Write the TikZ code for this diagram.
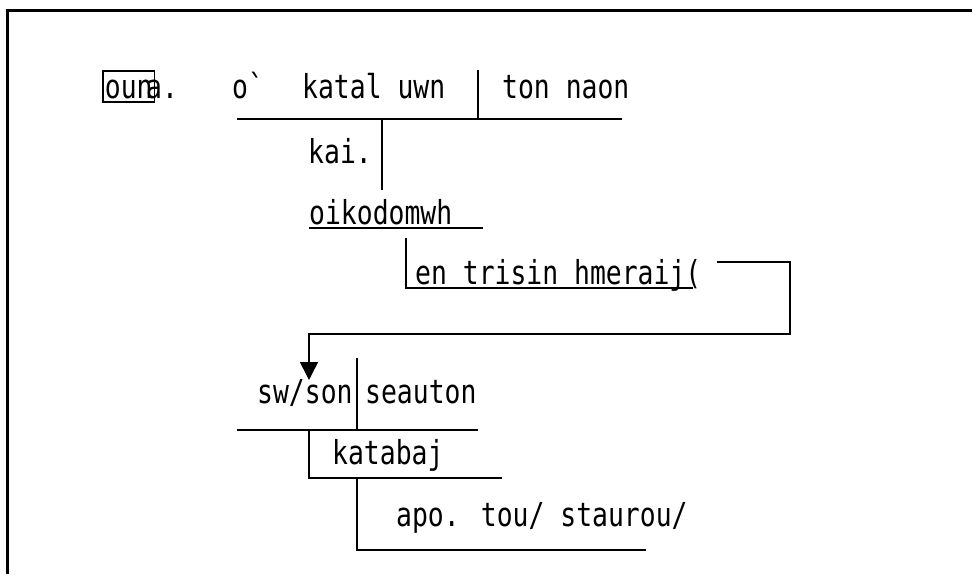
\documentclass[tikz,border=0pt]{standalone}
\usepackage{fontspec}
\usepackage{tikz}
\usetikzlibrary{arrows.meta}
\newfontfamily\diagfont{DejaVu Sans Mono}[FakeStretch=0.8]

\begin{document}
\begin{tikzpicture}[x=1pt, y=-1pt,
        word/.style={anchor=base west, inner sep=0pt, font=\diagfont\fontsize{33}{35}\selectfont},
        rule/.style={line width=1.5pt},
        arrow/.style={rule, -{Triangle[length=18pt, width=18pt]}}
    ]
        \useasboundingbox (0,0) rectangle (972,574);
        % Rahmen
        \draw[line width=3pt] (7,574) -- (7,10) -- (972,10);

        % erste Zeile
        \node[word, draw, line width=1.8pt, inner xsep=2pt, text height=27pt, text depth=4pt] (oun) at (102,98) {oun};
        \node[word] (ouna) at (146,98) {a.};
        \node[word] (ho) at (232,98) {o\textasciigrave};
        \node[word] (kataluwn) at (302,98) {katal uwn};
        \node[word] (naon) at (502,98) {ton naon};

        \coordinate (l1a) at (237,119);
        \coordinate (l1b) at (622,119);
        \coordinate (v1) at (478,119);
        \coordinate (v2) at (382,119);
        \draw[rule] (l1a) -- (l1b);
        \draw[rule] (v1) -- ++(0,-49);
        \draw[rule] (v2) -- ++(0,71);

        % kai. / oikodomwh
        \node[word, anchor=base east] (kai) at (372,163) {kai.};
        \node[word] (oikodomwh) at (309,224) {oikodomwh};
        \draw[rule] (309,228) coordinate (l2a) -- (483,228) coordinate (l2b);

        % en trisin hmeraij(
        \node[word] (trisin) at (415,284) {en trisin hmeraij(};
        \coordinate (v3) at (406,238);
        \coordinate (l3b) at (693,288);
        \draw[rule] (v3) |- (l3b);

        % Klammer zum Pfeil
        \coordinate (b1) at (717,262);
        \coordinate (b2) at (790,334);
        \coordinate (tip) at (309,380);
        \draw[arrow] (b1) -| (b2) -| (tip);

        % sw/son | seauton
        \node[word] (swson) at (257,403) {sw/son};
        \node[word] (seauton) at (365,403) {seauton};
        \coordinate (l4a) at (237,430);
        \coordinate (l4b) at (478,430);
        \draw[rule] (l4a) -- (l4b);
        \draw[rule] (357,430) -- ++(0,-72);

        % katabaj
        \node[word] (katabaj) at (332,464) {katabaj};
        \coordinate (l5b) at (502,478);
        \draw[rule] (309,430) |- (l5b);

        % apo. tou/ staurou/
        \node[word] (stauros) at (396,526) {apo. tou/ staurou/};
        \coordinate (l6b) at (646,550);
        \draw[rule] (357,478) |- (l6b);
    \end{tikzpicture}
\end{document}
